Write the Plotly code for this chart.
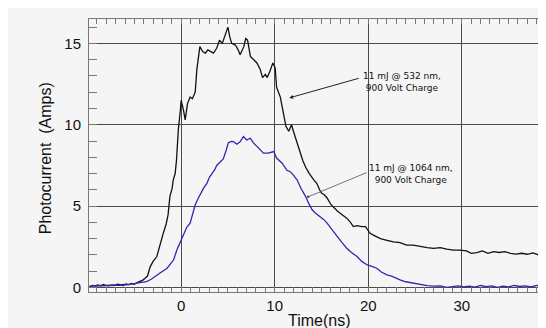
import plotly.graph_objects as go

# 532 nm trace (black)
t_532 = [-9.8, -9.5, -9.2, -8.9, -8.6, -8.3, -8.0, -7.7, -7.4, -7.1, -6.8, -6.5, -6.2, -5.9, -5.6,
         -5.3, -5.0, -4.7, -4.4, -4.1, -3.85, -3.6, -3.3, -3.0, -2.6, -2.3, -1.9, -1.6, -1.4, -1.2,
         -0.96, -0.85, -0.64, -0.5, -0.3, -0.1, 0.0, 0.25, 0.43, 0.68, 0.96, 1.2, 1.5, 1.68, 2.0,
         2.3, 2.6, 2.85, 3.1, 3.45, 3.8, 4.1, 4.4, 4.7, 5.0, 5.2, 5.4, 5.8, 6.1, 6.3, 6.7, 6.9, 7.1,
         7.4, 7.7, 8.1, 8.45, 8.7, 9.0, 9.2, 9.5, 9.8, 10.05, 10.2, 10.6, 10.9, 11.2, 11.5, 11.8,
         12.0, 12.4, 12.7, 13.0, 13.3, 13.7, 14.2, 14.5, 14.8, 15.0, 15.3, 15.6, 16.0, 16.3, 16.7,
         17.0, 17.4, 17.7, 18.1, 18.4, 18.8, 19.3, 19.7, 20.2, 20.6, 21.3, 22.0, 22.7, 23.4, 24.1,
         24.8, 25.6, 26.3, 27.0, 27.7, 28.4, 29.1, 29.8, 30.5, 31.0, 31.6, 32.2, 32.8, 33.4, 34.0,
         34.6, 35.2, 35.8, 36.4, 37.0, 37.6, 38.2, 38.6, 39.0]
i_532 = [0.05, 0.12, 0.08, 0.15, 0.1, 0.18, 0.12, 0.1, 0.16, 0.12, 0.2, 0.14, 0.12, 0.22, 0.18,
         0.25, 0.2, 0.3, 0.36, 0.45, 0.57, 0.7, 1.28, 1.6, 1.9, 2.6, 3.35, 3.9, 4.46, 5.6,
         6.1, 6.6, 7.0, 7.8, 9.7, 10.8, 11.5, 10.9, 10.3, 11.3, 11.7, 11.6, 12.0, 13.4, 14.8,
         14.5, 14.4, 14.6, 14.5, 14.4, 14.7, 15.2, 15.0, 15.5, 16.0, 15.4, 15.0, 14.9, 14.6, 14.3,
         14.8, 15.3, 15.2, 14.2, 14.0, 13.8, 13.4, 12.9, 13.1, 12.9, 13.3, 13.8, 13.5, 12.3, 11.7,
         10.9, 9.9, 9.6, 10.0, 9.6, 8.9, 8.25, 7.8, 7.4, 7.0, 6.6, 6.4, 6.0, 5.8, 5.7, 5.5, 5.1,
         4.9, 4.7, 4.56, 4.4, 4.26, 4.0, 3.74, 3.8, 3.74, 3.74, 3.33, 3.2, 3.0, 2.9, 2.8, 2.75,
         2.6, 2.6, 2.5, 2.45, 2.4, 2.45, 2.35, 2.3, 2.3, 2.25, 2.1, 2.14, 2.25, 2.1, 2.2, 2.15,
         2.2, 2.1, 2.05, 2.1, 2.04, 2.12, 2.0, 2.06, 2.0]

# 1064 nm trace (blue)
t_1064 = [-9.8, -9.4, -9.0, -8.6, -8.2, -7.8, -7.4, -7.0, -6.6, -6.2, -5.8, -5.4, -5.0, -4.6, -4.2,
          -3.7, -3.2, -2.6, -2.1, -1.5, -1.2, -0.8, -0.46, -0.1, 0.2, 0.6, 0.96, 1.2, 1.5, 1.8,
          2.0, 2.4, 2.75, 3.05, 3.3, 3.6, 3.8, 4.1, 4.5, 4.8, 5.05, 5.35, 5.6, 5.95, 6.3, 6.66,
          7.0, 7.4, 7.7, 7.95, 8.3, 8.6, 8.8, 9.3, 9.6, 9.9, 10.2, 10.5, 10.8, 11.3, 11.7, 12.0,
          12.4, 12.8, 13.3, 13.6, 14.0, 14.4, 14.9, 15.2, 15.6, 16.1, 16.7, 17.2, 17.7, 18.2,
          18.8, 19.3, 19.9, 20.4, 20.9, 21.4, 22.0, 22.5, 23.0, 23.4, 24.0, 24.8, 25.5, 26.3,
          27.0, 27.7, 28.4, 29.0, 29.6, 30.2, 30.8, 31.4, 32.0, 32.6, 33.2, 33.8, 34.4, 35.0,
          35.6, 36.2, 36.8, 37.4, 38.0, 38.6, 39.0]
i_1064 = [0.05, 0.1, 0.08, 0.12, 0.1, 0.14, 0.12, 0.15, 0.13, 0.18, 0.16, 0.22, 0.24, 0.28, 0.3,
          0.36, 0.5, 0.77, 0.95, 1.18, 1.38, 1.7, 2.3, 2.75, 3.2, 3.7, 3.95, 4.5, 5.07, 5.45,
          5.7, 6.1, 6.4, 6.8, 7.0, 7.25, 7.5, 7.7, 7.9, 8.4, 8.9, 8.98, 8.97, 8.8, 8.95, 9.27,
          9.07, 9.17, 8.9, 8.76, 8.56, 8.4, 8.25, 8.25, 8.3, 8.35, 7.95, 7.8, 7.64, 7.2, 7.1, 6.9,
          6.6, 6.1, 5.6, 5.2, 4.77, 4.55, 4.35, 4.2, 3.95, 3.55, 3.12, 2.75, 2.41, 2.15,
          1.9, 1.6, 1.38, 1.3, 1.18, 0.95, 0.77, 0.7, 0.55, 0.46, 0.35, 0.26, 0.18, 0.11,
          0.08, 0.1, 0.01, 0.06, 0.1, 0.03, 0.08, 0.02, 0.12, 0.05, 0.1, 0.0, 0.08, 0.04,
          0.12, 0.06, 0.1, 0.03, 0.12, 0.08, 0.12]

x_ticks = [0, 10, 20, 30]
y_ticks = [0, 5, 10, 15]
label_532 = "11 mJ @ 532 nm,<br>900 Volt Charge"
label_1064 = "11 mJ @ 1064 nm,<br>900 Volt Charge"

BG = "#f5f5f5"
GRID = "#4a4a4a"
TICKFONT = dict(family="Liberation Sans, Arial, sans-serif", size=15, color="#111")

fig = go.Figure()
fig.add_trace(go.Scatter(x=t_532, y=i_532, mode="lines",
                         line=dict(color="#111111", width=1.3), showlegend=False))
fig.add_trace(go.Scatter(x=t_1064, y=i_1064, mode="lines",
                         line=dict(color="#3a22b0", width=1.3), showlegend=False))

fig.update_layout(
    width=538, height=320,
    margin=dict(l=81, r=0, t=11, b=36),
    paper_bgcolor=BG, plot_bgcolor=BG,
    showlegend=False,
)

fig.update_xaxes(
    range=[-9.85, 39.0], tickvals=x_ticks, ticktext=[str(v) for v in x_ticks],
    showgrid=True, gridcolor=GRID, gridwidth=1, zeroline=False,
    showline=True, linecolor="#777", linewidth=1, mirror="ticks",
    ticks="inside", ticklen=5, tickcolor="#777",
    minor=dict(dtick=1, ticks="inside", ticklen=5, tickcolor="#777", showgrid=False),
    tickfont=TICKFONT, ticklabelstandoff=0, automargin=False,
)
fig.update_yaxes(
    range=[-0.28, 16.5], tickvals=y_ticks, ticktext=[str(v) for v in y_ticks],
    showgrid=True, gridcolor=GRID, gridwidth=1, zeroline=False,
    showline=True, linecolor="#777", linewidth=1, mirror=False,
    ticks="inside", ticklen=8, tickcolor="#777",
    minor=dict(dtick=1, ticks="inside", ticklen=8, tickcolor="#777", showgrid=False),
    tickfont=TICKFONT, ticklabelstandoff=4, automargin=False,
)

# axis titles
fig.add_annotation(text="Time(ns)", xref="paper", yref="paper", x=0.505, y=-0.1026,
                   xanchor="center", yanchor="middle", showarrow=False,
                   font=dict(family="Liberation Sans, Arial, sans-serif", size=16, color="#111"))
fig.add_annotation(text="Photocurrent  (Amps)", xref="paper", yref="paper", x=-0.0963, y=0.49,
                   xanchor="center", yanchor="middle", showarrow=False, textangle=-90,
                   font=dict(family="Liberation Sans, Arial, sans-serif", size=16, color="#111"))

# labels
NOTEFONT = dict(family="DejaVu Sans, Verdana, sans-serif", size=9, color="#111")
fig.add_annotation(text=label_532, x=23.6, y=12.64, xref="x", yref="y", showarrow=False,
                   align="center", xanchor="center", yanchor="middle", font=NOTEFONT)
fig.add_annotation(text=label_1064, x=24.6, y=6.95, xref="x", yref="y", showarrow=False,
                   align="center", xanchor="center", yanchor="middle", font=NOTEFONT)
fig.add_annotation(text="", x=11.55, y=11.65, ax=19.14, ay=12.88, xref="x", yref="y",
                   axref="x", ayref="y", showarrow=True, arrowhead=2, arrowsize=0.8,
                   arrowwidth=1, arrowcolor="#222")
fig.add_annotation(text="", x=13.58, y=5.57, ax=20.0, ay=7.1, xref="x", yref="y",
                   axref="x", ayref="y", showarrow=True, arrowhead=6, arrowsize=0.8,
                   arrowwidth=0.8, arrowcolor="#555")

fig.write_html("out.html")
